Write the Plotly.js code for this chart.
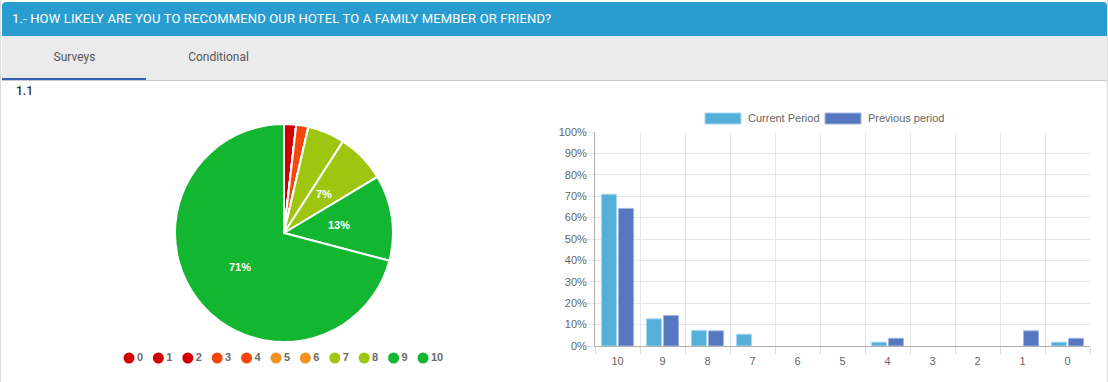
<!DOCTYPE html>
<html>
<head>
<meta charset="utf-8">
<script src="https://cdn.plot.ly/plotly-3.0.1.min.js"></script>
<style>
  html, body { margin:0; padding:0; width:1108px; height:382px; overflow:hidden; background:#fff; }
  #card { position:absolute; left:0; top:0; width:1108px; height:382px; box-sizing:border-box;
          border-left:1px solid #dcdcdc; border-right:1px solid #dcdcdc; }
  #hdr { position:absolute; left:1px; top:2px; width:1105px; height:34px; background:#2a9dd0;
         border-radius:4px 4px 0 0; color:#fff; font-family:Roboto, sans-serif; font-size:13px;
         letter-spacing:0.15px; line-height:34px; padding-left:10px; box-sizing:border-box; white-space:nowrap; }
  #tabs { position:absolute; left:1px; top:36px; width:1105px; height:44px; background:#ebebeb;
          border-bottom:1px solid #c8c8c8; }
  .tab { position:absolute; top:0; height:44px; width:145px; line-height:42px; text-align:center;
         font-family:Roboto, sans-serif; font-size:12px; color:#555; }
  #uline { position:absolute; left:1px; top:78px; width:144px; height:2px; background:#3560b0; }
  #sub { position:absolute; left:15px; top:84px; font-family:Roboto, sans-serif; font-size:12px;
         font-weight:500; color:#333; }
  #plot { position:absolute; left:0; top:0; width:1108px; height:382px; }
</style>
</head>
<body>
<div id="card">
  <div id="hdr">1.- HOW LIKELY ARE YOU TO RECOMMEND OUR HOTEL TO A FAMILY MEMBER OR FRIEND?</div>
  <div id="tabs">
    <div class="tab" style="left:0">Surveys</div>
    <div class="tab" style="left:144px">Conditional</div>
  </div>
  <div id="uline"></div>
  <div id="sub">1.1</div>
</div>
<div id="plot"></div>
<script>
// ---- data ----
const barCategories = ['10','9','8','7','6','5','4','3','2','1','0'];
const currentPeriod  = [70.9, 12.7, 7.3, 5.5, 0, 0, 1.8, 0, 0, 0, 1.8];
const previousPeriod = [64.3, 14.3, 7.1, 0, 0, 0, 3.6, 0, 0, 7.1, 3.6];

const pieLabels = ['0','1','2','3','4','5','6','7','8','9','10'];
const pieValues = [1.8, 0, 0, 0, 1.8, 0, 0, 5.5, 7.3, 12.7, 70.9];
const pieColors = ['#d10000','#d10000','#d10000','#f7460a','#f7460a','#f5911e','#f5911e',
                   '#9ec60e','#9ec60e','#12b630','#12b630'];
const seriesNames = ['Current Period', 'Previous period'];
const seriesColors = ['#54b0d8', '#5577c0'];
const seriesEdges  = ['#a6d6ee', '#a3b5e0'];

// ---- helpers ----
const W = 1108, H = 382;
const px = x => x / W;
const py = y => 1 - y / H;
const pieBox = { x0: 175, x1: 393, y0: 124, y1: 342 };
const pieCx = (pieBox.x0 + pieBox.x1) / 2, pieCy = (pieBox.y0 + pieBox.y1) / 2;
const pieR = (pieBox.x1 - pieBox.x0) / 2;
const pieTotal = pieValues.reduce((a, b) => a + b, 0);

// percentage labels placed at slice middles (computed from the data)
const pieAnnotations = [];
let cum = 0;
pieValues.forEach(v => {
  const frac = v / pieTotal;
  if (frac >= 0.06) {
    const ang = 2 * Math.PI * (cum + frac / 2);
    const r = pieR * 0.51;
    pieAnnotations.push({
      xref: 'paper', yref: 'paper', showarrow: false, xanchor: 'center', yanchor: 'middle',
      x: px(pieCx + r * Math.sin(ang)), y: py(pieCy - r * Math.cos(ang)),
      text: Math.round(frac * 100) + '%',
      font: { family: 'Arial, Liberation Sans, sans-serif', size: 11, color: '#ffffff', weight: 'bold' }
    });
  }
  cum += frac;
});

const traces = [
  {
    type: 'pie', labels: pieLabels, values: pieValues, sort: false, direction: 'clockwise',
    rotation: 0, marker: { colors: pieColors, line: { color: '#ffffff', width: 2 } },
    textinfo: 'none', hoverinfo: 'label+percent', showlegend: false,
    domain: { x: [px(pieBox.x0), px(pieBox.x1)], y: [py(pieBox.y1), py(pieBox.y0)] }
  },
  {
    type: 'bar', name: seriesNames[0], x: barCategories, y: currentPeriod,
    marker: { color: seriesColors[0], line: { color: seriesEdges[0], width: currentPeriod.map(v => v > 0 ? 1 : 0) } },
    xaxis: 'x', yaxis: 'y', showlegend: false
  },
  {
    type: 'bar', name: seriesNames[1], x: barCategories, y: previousPeriod,
    marker: { color: seriesColors[1], line: { color: seriesEdges[1], width: previousPeriod.map(v => v > 0 ? 1 : 0) } },
    xaxis: 'x', yaxis: 'y', showlegend: false
  },
  {
    type: 'scatter', mode: 'markers+text', x: pieLabels.map((_, i) => i), y: pieLabels.map(() => 0),
    text: pieLabels, textposition: 'middle right', cliponaxis: false,
    textfont: { family: 'Arial, Liberation Sans, sans-serif', size: 11, color: '#6a6a6a', weight: 'bold' },
    marker: { symbol: 'circle', size: 11, color: pieColors },
    xaxis: 'x2', yaxis: 'y2', showlegend: false, hoverinfo: 'skip'
  }
];

const tickFont = { family: 'Arial, Liberation Sans, sans-serif', size: 11, color: '#666666' };

const layout = {
  width: W, height: H, margin: { l: 0, r: 0, t: 0, b: 0 },
  paper_bgcolor: 'rgba(0,0,0,0)', plot_bgcolor: 'rgba(0,0,0,0)',
  barmode: 'group', bargap: 0.24, bargroupgap: 0.12,
  showlegend: false,
  xaxis: {
    domain: [px(595), px(1090)], anchor: 'y', type: 'category',
    categoryorder: 'array', categoryarray: barCategories,
    tickson: 'boundaries', ticks: 'outside', ticklen: 8, tickcolor: '#dddddd',
    ticklabelstandoff: 5,
    showgrid: true, gridcolor: '#e6e6e6', showline: true, linecolor: '#b0b0b0', linewidth: 1,
    tickfont: tickFont, fixedrange: true
  },
  yaxis: {
    domain: [py(346), py(132)], anchor: 'x', range: [0, 100], dtick: 10, ticksuffix: '%',
    ticks: 'outside', ticklen: 8, tickcolor: '#e6e6e6', ticklabelstandoff: -3,
    showgrid: true, gridcolor: '#e6e6e6', zeroline: false,
    showline: true, linecolor: '#b0b0b0', linewidth: 1,
    tickfont: tickFont, fixedrange: true
  },
  xaxis2: { domain: [px(129), px(423)], anchor: 'y2', range: [0, 10], visible: false, fixedrange: true },
  yaxis2: { domain: [py(368), py(348)], anchor: 'x2', range: [-1, 1], visible: false, fixedrange: true },
  shapes: [
    { type: 'rect', xref: 'paper', yref: 'paper', x0: px(705), x1: px(741), y0: py(124), y1: py(113),
      fillcolor: seriesColors[0], line: { color: seriesEdges[0], width: 1 } },
    { type: 'rect', xref: 'paper', yref: 'paper', x0: px(825), x1: px(861), y0: py(124), y1: py(113),
      fillcolor: seriesColors[1], line: { color: seriesEdges[1], width: 1 } }
  ],
  annotations: [
    { xref: 'paper', yref: 'paper', x: px(746), y: py(118), xanchor: 'left', yanchor: 'middle',
      text: seriesNames[0], showarrow: false, font: tickFont },
    { xref: 'paper', yref: 'paper', x: px(866), y: py(118), xanchor: 'left', yanchor: 'middle',
      text: seriesNames[1], showarrow: false, font: tickFont }
  ].concat(pieAnnotations)
};

Plotly.newPlot('plot', traces, layout, { displayModeBar: false, staticPlot: true });
</script>
</body>
</html>
